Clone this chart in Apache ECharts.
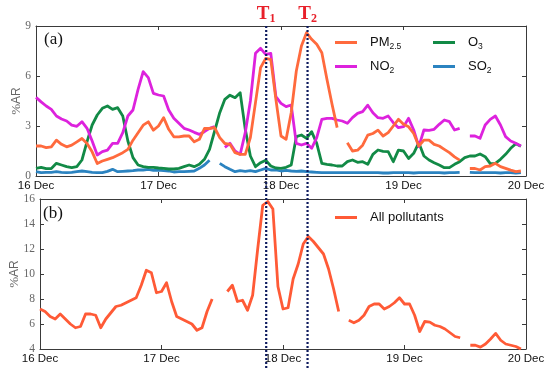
<!DOCTYPE html>
<html><head><meta charset="utf-8">
<script src="https://cdn.jsdelivr.net/npm/echarts@6/dist/echarts.min.js"></script>
<style>html,body{margin:0;padding:0;background:#fff}#c{width:550px;height:370px}</style>
</head><body><div id="c"></div><script>
// hours since 16 Dec 00:00, one value per hour (null = missing)
const dayLabels = ['16 Dec','17 Dec','18 Dec','19 Dec','20 Dec'];
const pm25 = [1.8,1.8,1.7,1.75,2.15,1.9,1.75,1.85,2.05,2.25,
1.95,1.45,0.75,0.9,1.0,1.1,1.25,1.4,1.6,2.15,
2.6,3.05,3.25,2.75,3.0,3.5,2.8,2.35,2.35,2.4,
2.4,2.05,2.2,2.85,2.85,2.9,2.3,1.95,1.9,1.4,
1.3,1.3,2.3,4.4,6.5,7.05,7.0,4.6,2.4,2.2,
3.8,6.3,7.8,8.6,8.2,7.9,7.4,5.8,4.3,2.9,
null,2.0,1.5,1.55,1.85,2.45,2.55,2.75,2.4,2.6,
3.0,3.4,3.1,2.95,2.55,1.8,2.15,2.15,1.9,1.8,
1.6,1.4,1.15,0.95,null,0.45,0.45,0.36,0.56,0.6,
0.76,0.56,0.46,0.35,0.26,0.3];
const no2 = [4.72,4.45,4.2,4.0,3.6,3.42,3.3,3.05,2.98,3.26,
2.86,2.1,1.26,1.46,1.55,1.96,1.96,2.6,3.6,3.96,
5.2,6.26,5.9,4.96,4.86,4.8,3.96,3.46,3.16,2.86,
2.76,2.62,2.5,2.66,2.86,2.96,null,1.72,1.96,1.5,
1.3,2.6,4.5,7.36,7.66,7.3,7.36,4.76,4.36,4.16,
4.26,1.96,1.86,1.96,1.66,2.3,3.4,3.46,3.46,3.36,
3.3,3.16,3.5,3.76,3.86,4.25,3.8,3.5,3.46,3.6,
3.2,2.9,2.96,3.46,2.76,1.76,2.76,2.74,2.8,3.1,
3.36,3.26,2.76,2.86,null,2.4,2.4,2.26,3.06,3.4,
3.6,3.06,2.36,2.1,1.96,1.8];
const o3 = [0.46,0.52,0.44,0.45,0.76,0.66,0.56,0.5,0.56,0.96,
2.06,3.06,3.66,4.06,4.2,4.0,4.1,3.6,2.1,1.1,
0.66,0.56,0.52,0.52,0.48,0.46,0.42,0.42,0.46,0.56,
0.66,0.56,0.7,1.0,1.6,2.7,3.8,4.6,4.85,4.7,
5.0,2.8,1.2,0.56,0.8,0.95,0.6,0.48,0.46,0.52,
0.66,2.36,2.46,2.26,2.66,1.96,0.76,0.7,0.66,0.6,
0.6,0.86,0.96,0.82,0.86,0.7,1.3,1.56,1.48,1.46,
0.86,1.55,1.5,1.05,1.36,2.0,1.2,0.96,0.8,0.66,
0.5,0.5,0.7,0.86,1.1,1.2,1.2,1.32,1.16,0.74,
0.76,1.0,1.3,1.66,1.94,1.78];
const so2 = [0.26,0.2,0.22,0.22,0.26,0.22,0.2,0.22,0.26,0.3,
0.26,0.22,0.2,0.2,0.28,0.4,0.26,0.28,0.3,0.32,
0.36,0.36,0.4,0.34,0.36,0.32,0.3,0.24,0.26,0.26,
0.28,0.3,0.46,0.66,0.95,null,0.76,0.56,0.4,0.26,
0.32,0.28,0.32,0.26,0.36,0.46,0.36,0.36,0.3,0.34,
0.3,0.28,0.3,0.26,0.24,0.22,0.2,0.2,0.2,0.2,
0.2,0.2,0.2,0.2,0.2,0.2,0.2,0.2,0.18,0.18,
0.2,0.2,0.2,0.2,0.18,0.2,0.2,0.2,0.2,0.2,
0.18,0.2,0.2,0.22,null,0.22,0.2,0.2,0.2,0.2,
0.2,0.18,0.2,0.2,0.18,0.2];
const allPollutants = [7.2,7.0,6.6,6.4,6.8,6.4,6.0,5.7,5.8,6.8,
6.8,6.7,5.7,6.4,6.9,7.4,7.5,7.7,7.9,8.1,
9.1,10.3,10.1,8.5,8.6,9.3,7.8,6.6,6.4,6.2,
6.0,5.5,5.7,7.0,8.0,null,null,8.6,9.1,7.8,
7.9,7.1,8.3,12.0,15.5,15.8,15.2,9.0,7.2,7.3,
9.6,10.8,12.4,13.0,12.6,12.1,11.6,10.4,8.8,7.0,
null,6.3,6.1,6.3,6.7,7.4,7.6,7.6,7.2,7.4,
7.7,8.1,7.6,7.6,6.7,5.4,6.2,6.15,5.9,5.8,
5.6,5.3,5.0,4.9,null,4.3,4.3,4.15,4.4,4.8,
5.25,4.7,4.4,4.3,4.2,4.0];
const eventHours = [45.1, 53.2];
const eventSubs = ['1', '2'];
const topRange = {min: 0, max: 9, interval: 3};
const botRange = {min: 4, max: 16, interval: 2};

const pairs = a => a.map((v, i) => [i, v === null ? '-' : v]);
const AX = '#3a3a3a';
const sans = 'Liberation Sans', serif = 'Liberation Serif';
const xBase = (grid, pos, labels) => ({
  type: 'value', gridIndex: grid, position: pos, min: 0, max: 96, interval: 24,
  axisLine: {show: true, onZero: false, lineStyle: {color: AX, width: 1}},
  axisTick: {show: true, inside: true, length: 4, lineStyle: {color: AX}},
  axisLabel: labels ? {show: true, margin: 4, fontFamily: sans, fontSize: 11.5, color: '#111',
    formatter: v => dayLabels[Math.round(v / 24)]} : {show: false},
  splitLine: {show: false}
});
const yBase = (grid, pos, r, labels, gap) => Object.assign({
  type: 'value', gridIndex: grid, position: pos,
  axisLine: {show: true, onZero: false, lineStyle: {color: AX, width: 1}},
  axisTick: {show: true, inside: true, length: 4, lineStyle: {color: AX}},
  axisLabel: labels ? {show: true, margin: 5, fontFamily: serif, fontSize: 11.5, color: '#666'} : {show: false},
  splitLine: {show: false}
}, r, labels ? {name: '{p|%}{a|AR}', nameLocation: 'middle', nameGap: gap, nameMoveOverlap: false,
  nameTextStyle: {color: '#666', rich: {
    p: {fontFamily: serif, fontSize: 13, color: '#666'},
    a: {fontFamily: sans, fontSize: 12, color: '#666'}}}} : {});

const rich = {
  n: {fontFamily: sans, fontSize: 13, color: '#111'},
  s: {fontFamily: sans, fontSize: 8.5, color: '#111', padding: [8, 0, 0, 0]}
};
const legendNames = {'PM2.5': '{n|PM}{s|2.5}', 'NO2': '{n|NO}{s|2}', 'O3': '{n|O}{s|3}', 'SO2': '{n|SO}{s|2}', 'All pollutants': '{n|All pollutants}'};
const legendBase = (data, left, top) => ({
  data, left, top, padding: 0, orient: 'vertical', icon: 'rect', itemWidth: 22, itemHeight: 3,
  itemGap: 9, selectedMode: false, formatter: n => legendNames[n],
  textStyle: {rich, padding: [0, 0, 0, 8]}
});
const line = (name, data, color, x, y) => ({
  name, type: 'line', xAxisIndex: x, yAxisIndex: y, data: pairs(data), showSymbol: false,
  symbol: 'none', connectNulls: false, lineStyle: {color, width: 2.8, join: 'round'}, itemStyle: {color},
  animation: false
});

const chart = echarts.init(document.getElementById('c'), null, {renderer: 'canvas'});
chart.setOption({
  animation: false,
  backgroundColor: '#fff',
  grid: [
    {left: 36, right: 24, top: 26, height: 150},
    {left: 36, right: 24, top: 199, height: 150}
  ],
  xAxis: [xBase(0, 'bottom', true), xBase(0, 'top', false), xBase(1, 'bottom', true), xBase(1, 'top', false)],
  yAxis: [yBase(0, 'left', topRange, true, 13), yBase(0, 'right', topRange, false),
          yBase(1, 'left', botRange, true, 19), yBase(1, 'right', botRange, false)],
  legend: [
    legendBase(['PM2.5', 'NO2'], 335, 36),
    legendBase(['O3', 'SO2'], 433, 36),
    legendBase(['All pollutants'], 335, 211)
  ],
  series: [
    line('SO2', so2, '#2b83c0', 0, 0),
    line('O3', o3, '#128a46', 0, 0),
    line('NO2', no2, '#dd22dd', 0, 0),
    line('PM2.5', pm25, '#ff6a3d', 0, 0),
    line('All pollutants', allPollutants, '#ff5a36', 2, 2)
  ]
});

const topY = chart.convertToPixel({yAxisIndex: 0}, topRange.max);
const g = [];
eventHours.forEach((h, i) => {
  const x = chart.convertToPixel({xAxisIndex: 0}, h);
  g.push({type: 'line', z: 100, shape: {x1: x, y1: topY, x2: x, y2: 369},
    style: {stroke: '#0d1a5e', lineWidth: 2.2, lineDash: [2, 2]}});
  g.push({type: 'text', z: 100, x: x, y: topY - 1, style: {
    text: '{t|T}{s|' + eventSubs[i] + '}', align: 'center', verticalAlign: 'bottom',
    rich: {t: {fontFamily: serif, fontWeight: 'bold', fontSize: 19, fill: '#e8202a'},
           s: {fontFamily: serif, fontWeight: 'bold', fontSize: 12, fill: '#e8202a', padding: [9, 0, 0, 0]}}}});
});
g.push({type: 'text', left: 44, top: 31, style: {text: '(a)', font: '17px "Liberation Serif"', fill: '#111'}});
g.push({type: 'text', left: 43, top: 205, style: {text: '(b)', font: '17px "Liberation Serif"', fill: '#111'}});
chart.setOption({graphic: g});
</script></body></html>
